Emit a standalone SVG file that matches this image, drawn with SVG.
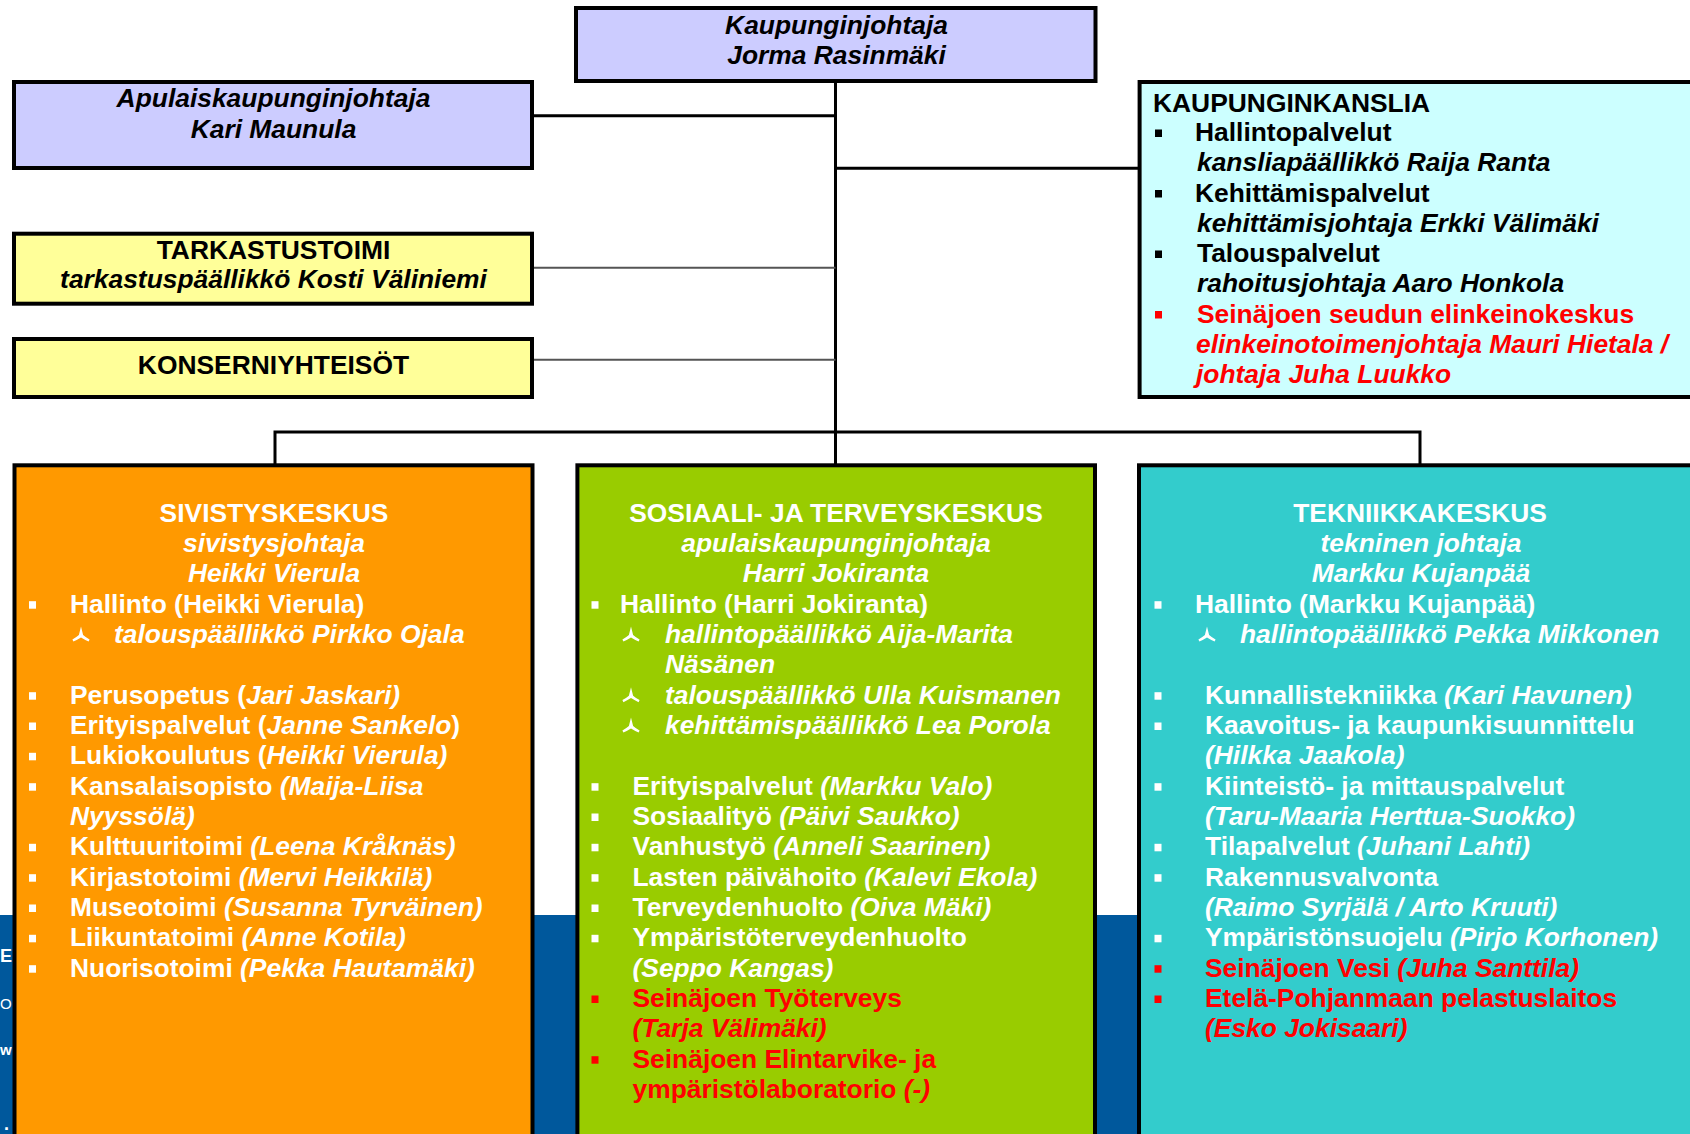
<svg xmlns="http://www.w3.org/2000/svg" xmlns:xlink="http://www.w3.org/1999/xlink" width="1690" height="1134" viewBox="0 0 1690 1134">
<style>
.t{font-family:"Liberation Sans",Arial,"DejaVu Sans",sans-serif;font-size:26.4px;font-weight:bold;}
.i{font-style:italic;}
.n{font-style:normal;}
.c{text-anchor:middle;}
.w{fill:#ffffff;}
.k{fill:#000000;}
.r{fill:#ff0000;}
.box{stroke:#000000;stroke-width:4;}
.conn{stroke:#000000;stroke-width:3;fill:none;}
.conn2{stroke:#555555;stroke-width:2;fill:none;}
</style>
<defs>
<rect id="bl" width="7" height="7.5"/>
<path id="sb" d="M0,-13.5 L2.1,-5 Q4.8,-2.6 8.6,-0.6 L7.6,1.6 Q3.6,-0.4 0,-2.6 Q-3.6,-0.4 -7.6,1.6 L-8.6,-0.6 Q-4.8,-2.6 -2.1,-5 Z"/>
</defs>
<rect width="1690" height="1134" fill="#ffffff"/>
<g id="background">
<rect x="0" y="915" width="1150" height="219" fill="#00589c"/>
<text class="t w" x="0" y="962" style="font-size:18px">E</text>
<text class="t w" x="0" y="1009" style="font-size:15px;font-weight:normal">O</text>
<text class="t w" x="0" y="1055" style="font-size:15px">w</text>
<text class="t w" x="4" y="1130" style="font-size:18px">.</text>
</g>
<g id="connectors">
<line class="conn" x1="835.5" y1="80" x2="835.5" y2="465"/>
<line class="conn" x1="532" y1="115.7" x2="835.5" y2="115.7"/>
<line class="conn" x1="835.5" y1="168.3" x2="1140" y2="168.3"/>
<line class="conn2" x1="532" y1="267.7" x2="835.5" y2="267.7"/>
<line class="conn2" x1="532" y1="359.7" x2="835.5" y2="359.7"/>
<polyline class="conn" points="275,465 275,432 1420,432 1420,465"/>
</g>
<g id="kaupunginjohtaja">
<rect class="box" x="576" y="8" width="519.5" height="73" fill="#ccccff"/>
<text class="t i k c" x="836.5" y="34">Kaupunginjohtaja</text>
<text class="t i k c" x="836.5" y="63.5">Jorma Rasinmäki</text>
</g>
<g id="apulaiskaupunginjohtaja">
<rect class="box" x="14" y="82" width="518" height="86" fill="#ccccff"/>
<text class="t i k c" x="273.5" y="107">Apulaiskaupunginjohtaja</text>
<text class="t i k c" x="273.5" y="138">Kari Maunula</text>
</g>
<g id="tarkastustoimi">
<rect class="box" x="14" y="233.7" width="518" height="70" fill="#ffff99"/>
<text class="t k c" x="273.5" y="259">TARKASTUSTOIMI</text>
<text class="t i k c" x="273.5" y="288.3">tarkastuspäällikkö Kosti Väliniemi</text>
</g>
<g id="konserniyhteisot">
<rect class="box" x="14" y="339" width="518" height="58" fill="#ffff99"/>
<text class="t k c" x="273.5" y="374">KONSERNIYHTEISÖT</text>
</g>
<g id="kaupunginkanslia">
<rect class="box" x="1139.6" y="82" width="560" height="315" fill="#ccffff"/>
<text class="t k" x="1153" y="112">KAUPUNGINKANSLIA</text>
<use xlink:href="#bl" x="1155" y="129.5" class="k"/>
<text class="t k" x="1195" y="141">Hallintopalvelut</text>
<text class="t i k" x="1197" y="171.3">kansliapäällikkö Raija Ranta</text>
<use xlink:href="#bl" x="1155" y="190" class="k"/>
<text class="t k" x="1195" y="201.5">Kehittämispalvelut</text>
<text class="t i k" x="1197" y="231.8">kehittämisjohtaja Erkki Välimäki</text>
<use xlink:href="#bl" x="1155" y="250.5" class="k"/>
<text class="t k" x="1197" y="262">Talouspalvelut</text>
<text class="t i k" x="1197" y="292.3">rahoitusjohtaja Aaro Honkola</text>
<use xlink:href="#bl" x="1155" y="311" class="r"/>
<text class="t r" x="1197" y="322.5">Seinäjoen seudun elinkeinokeskus</text>
<text class="t i r" x="1196" y="352.8">elinkeinotoimenjohtaja Mauri Hietala /</text>
<text class="t i r" x="1196" y="383">johtaja Juha Luukko</text>
</g>
<g id="sivistyskeskus">
<rect class="box" x="14.5" y="465.3" width="518" height="720" fill="#ff9900"/>
<text class="t w c" x="274" y="521.7">SIVISTYSKESKUS</text>
<text class="t i w c" x="274" y="552">sivistysjohtaja</text>
<text class="t i w c" x="274" y="582.4">Heikki Vierula</text>
<use xlink:href="#bl" x="29" y="601.2" class="w"/>
<text class="t w" x="70" y="612.7">Hallinto (Heikki Vierula)</text>
<use xlink:href="#sb" x="81" y="640" class="w"/>
<text class="t i w" x="114" y="643">talouspäällikkö Pirkko Ojala</text>
<use xlink:href="#bl" x="29" y="692.2" class="w"/>
<text class="t w" x="70" y="703.7">Perusopetus (<tspan class="i">Jari Jaskari)</tspan></text>
<use xlink:href="#bl" x="29" y="722.5" class="w"/>
<text class="t w" x="70" y="734">Erityispalvelut (<tspan class="i">Janne Sankelo</tspan>)</text>
<use xlink:href="#bl" x="29" y="752.8" class="w"/>
<text class="t w" x="70" y="764.3">Lukiokoulutus (<tspan class="i">Heikki Vierula)</tspan></text>
<use xlink:href="#bl" x="29" y="783.2" class="w"/>
<text class="t w" x="70" y="794.7">Kansalaisopisto <tspan class="i">(Maija-Liisa</tspan></text>
<text class="t i w" x="70" y="825">Nyyssölä)</text>
<use xlink:href="#bl" x="29" y="843.8" class="w"/>
<text class="t w" x="70" y="855.3">Kulttuuritoimi <tspan class="i">(Leena Kråknäs)</tspan></text>
<use xlink:href="#bl" x="29" y="874.2" class="w"/>
<text class="t w" x="70" y="885.7">Kirjastotoimi <tspan class="i">(Mervi Heikkilä)</tspan></text>
<use xlink:href="#bl" x="29" y="904.5" class="w"/>
<text class="t w" x="70" y="916">Museotoimi <tspan class="i">(Susanna Tyrväinen)</tspan></text>
<use xlink:href="#bl" x="29" y="934.8" class="w"/>
<text class="t w" x="70" y="946.3">Liikuntatoimi <tspan class="i">(Anne Kotila)</tspan></text>
<use xlink:href="#bl" x="29" y="965.2" class="w"/>
<text class="t w" x="70" y="976.7">Nuorisotoimi <tspan class="i">(Pekka Hautamäki)</tspan></text>
</g>
<g id="sosiaali-ja-terveyskeskus">
<rect class="box" x="577.4" y="465.3" width="517.6" height="720" fill="#99cc00"/>
<text class="t w c" x="836" y="521.7">SOSIAALI- JA TERVEYSKESKUS</text>
<text class="t i w c" x="836" y="552">apulaiskaupunginjohtaja</text>
<text class="t i w c" x="836" y="582.4">Harri Jokiranta</text>
<use xlink:href="#bl" x="591.5" y="601.2" class="w"/>
<text class="t w" x="620" y="612.7">Hallinto (Harri Jokiranta)</text>
<use xlink:href="#sb" x="631" y="640" class="w"/>
<text class="t i w" x="665" y="643">hallintopäällikkö Aija-Marita</text>
<text class="t i w" x="665" y="673.4">Näsänen</text>
<use xlink:href="#sb" x="631" y="700.7" class="w"/>
<text class="t i w" x="665" y="703.7">talouspäällikkö Ulla Kuismanen</text>
<use xlink:href="#sb" x="631" y="731" class="w"/>
<text class="t i w" x="665" y="734">kehittämispäällikkö Lea Porola</text>
<use xlink:href="#bl" x="591.5" y="783.2" class="w"/>
<text class="t w" x="632.5" y="794.7">Erityispalvelut <tspan class="i">(Markku Valo)</tspan></text>
<use xlink:href="#bl" x="591.5" y="813.5" class="w"/>
<text class="t w" x="632.5" y="825">Sosiaalityö <tspan class="i">(Päivi Saukko)</tspan></text>
<use xlink:href="#bl" x="591.5" y="843.8" class="w"/>
<text class="t w" x="632.5" y="855.3">Vanhustyö <tspan class="i">(Anneli Saarinen)</tspan></text>
<use xlink:href="#bl" x="591.5" y="874.2" class="w"/>
<text class="t w" x="632.5" y="885.7">Lasten päivähoito <tspan class="i">(Kalevi Ekola)</tspan></text>
<use xlink:href="#bl" x="591.5" y="904.5" class="w"/>
<text class="t w" x="632.5" y="916">Terveydenhuolto <tspan class="i">(Oiva Mäki)</tspan></text>
<use xlink:href="#bl" x="591.5" y="934.8" class="w"/>
<text class="t w" x="632.5" y="946.3">Ympäristöterveydenhuolto</text>
<text class="t i w" x="632.5" y="976.7">(Seppo Kangas)</text>
<use xlink:href="#bl" x="591.5" y="995.5" class="r"/>
<text class="t r" x="632.5" y="1007">Seinäjoen Työterveys</text>
<text class="t i r" x="632.5" y="1037.3">(Tarja Välimäki)</text>
<use xlink:href="#bl" x="591.5" y="1056.2" class="r"/>
<text class="t r" x="632.5" y="1067.7">Seinäjoen Elintarvike- ja</text>
<text class="t r" x="632.5" y="1098">ympäristölaboratorio <tspan class="i">(-)</tspan></text>
</g>
<g id="tekniikkakeskus">
<rect class="box" x="1139" y="465.3" width="600" height="720" fill="#33cccc"/>
<text class="t w c" x="1420" y="521.7">TEKNIIKKAKESKUS</text>
<text class="t i w c" x="1421" y="552">tekninen johtaja</text>
<text class="t i w c" x="1421" y="582.4">Markku Kujanpää</text>
<use xlink:href="#bl" x="1154.5" y="601.2" class="w"/>
<text class="t w" x="1195" y="612.7">Hallinto (Markku Kujanpää)</text>
<use xlink:href="#sb" x="1207" y="640" class="w"/>
<text class="t i w" x="1240" y="643">hallintopäällikkö Pekka Mikkonen</text>
<use xlink:href="#bl" x="1154.5" y="692.2" class="w"/>
<text class="t w" x="1205" y="703.7">Kunnallistekniikka <tspan class="i">(Kari Havunen)</tspan></text>
<use xlink:href="#bl" x="1154.5" y="722.5" class="w"/>
<text class="t w" x="1205" y="734">Kaavoitus- ja kaupunkisuunnittelu</text>
<text class="t i w" x="1205" y="764.3">(Hilkka Jaakola)</text>
<use xlink:href="#bl" x="1154.5" y="783.2" class="w"/>
<text class="t w" x="1205" y="794.7">Kiinteistö- ja mittauspalvelut</text>
<text class="t i w" x="1205" y="825">(Taru-Maaria Herttua-Suokko)</text>
<use xlink:href="#bl" x="1154.5" y="843.8" class="w"/>
<text class="t w" x="1205" y="855.3">Tilapalvelut <tspan class="i">(Juhani Lahti)</tspan></text>
<use xlink:href="#bl" x="1154.5" y="874.2" class="w"/>
<text class="t w" x="1205" y="885.7">Rakennusvalvonta</text>
<text class="t i w" x="1205" y="916">(Raimo Syrjälä / Arto Kruuti)</text>
<use xlink:href="#bl" x="1154.5" y="934.8" class="w"/>
<text class="t w" x="1205" y="946.3">Ympäristönsuojelu <tspan class="i">(Pirjo Korhonen)</tspan></text>
<use xlink:href="#bl" x="1154.5" y="965.2" class="r"/>
<text class="t r" x="1205" y="976.7">Seinäjoen Vesi <tspan class="i">(Juha Santtila)</tspan></text>
<use xlink:href="#bl" x="1154.5" y="995.5" class="r"/>
<text class="t r" x="1205" y="1007">Etelä-Pohjanmaan pelastuslaitos</text>
<text class="t i r" x="1205" y="1037.3">(Esko Jokisaari)</text>
</g>
</svg>
